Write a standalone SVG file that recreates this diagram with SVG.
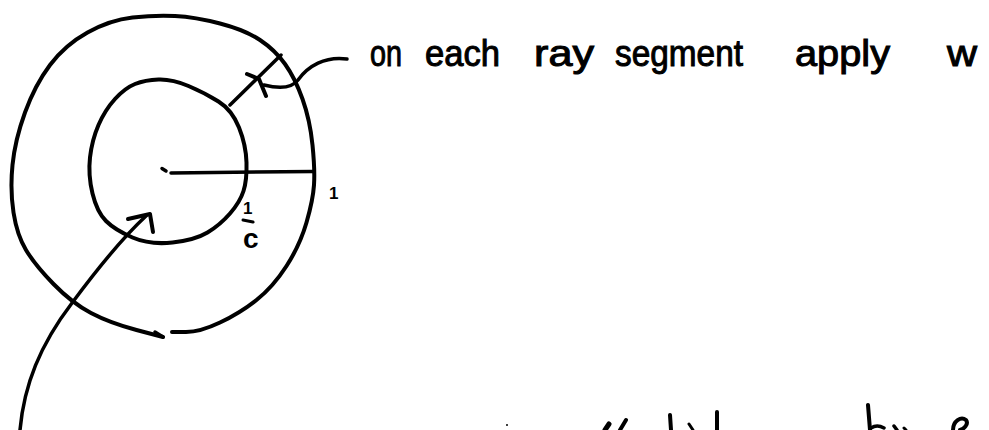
<svg xmlns="http://www.w3.org/2000/svg" width="989" height="430" viewBox="0 0 989 430">
<style>
.ink{fill:none;stroke:#000;stroke-linecap:round;stroke-linejoin:round}
.thick{stroke-width:4}
.mid{stroke-width:3.5}
.hand{font-family:"Liberation Sans","DejaVu Sans",sans-serif;fill:#000}
.cap{stroke:#000;stroke-width:1}
</style>
<rect width="989" height="430" fill="#fff"/>
<g id="outer-circle">
<path class="ink thick" d="M172,332 L186,332 Q200,332 220,322.5 Q240,313 256.5,300 Q273,287 286.5,266 Q300,245 306.5,222.5 Q313,200 314,185 Q315,170 312.5,145 Q310,120 302.5,99 Q295,78 285,64 Q275,50 260,40 Q245,30 220,23.5 Q195,17 175,16 Q155,15 132.5,17.5 Q110,20 87.5,32.5 Q65,45 50,65 Q35,85 25,112.5 Q15,140 12.5,165 Q10,190 13.5,212.5 Q17,235 26,250 Q35,265 53.5,284 Q72,303 91,313 Q110,323 136.5,330 L163,337"/>
<path class="ink mid" d="M155,332 L163,337"/>
</g>
<g id="inner-circle">
<path class="ink thick" d="M135,84 Q145,80 158.5,79.5 Q172,79 188.5,86 Q205,93 218.5,101.5 Q232,110 239,127.5 Q246,145 246.5,162.5 Q247,180 243.5,191 Q240,202 230,213.5 Q220,225 207.5,232.5 Q195,240 172.5,242.5 Q150,245 132.5,237.5 Q115,230 106,221 Q97,212 92.5,193.5 Q88,175 90,157.5 Q92,140 98.5,125 Q105,110 115,99 Q125,88 135,84 Z"/>
</g>
<g id="radius">
<path class="ink mid" d="M162,168.5 L166,171"/>
<path class="ink mid" d="M171,173 L313,171.5"/>
<text class="hand" x="329" y="199" font-size="17" font-weight="bold">1</text>
</g>
<g id="inner-radius-label">
<text class="hand" x="243" y="214" font-size="17" font-weight="bold">1</text>
<path class="ink" stroke-width="3" d="M243,220 L253,222"/>
<text class="hand" x="243" y="248" font-size="28" font-weight="bold">c</text>
</g>
<g id="caption">
<text class="hand cap" font-size="36" y="66" x="370" textLength="32" lengthAdjust="spacingAndGlyphs">on</text>
<text class="hand cap" font-size="36" y="66" x="425" textLength="75" lengthAdjust="spacingAndGlyphs">each</text>
<text class="hand cap" font-size="36" y="66" x="534" textLength="60" lengthAdjust="spacingAndGlyphs">ray</text>
<text class="hand cap" font-size="36" y="66" x="615" textLength="128" lengthAdjust="spacingAndGlyphs">segment</text>
<text class="hand cap" font-size="36" y="66" x="795" textLength="95" lengthAdjust="spacingAndGlyphs">apply</text>
<text class="hand cap" font-size="36" y="66" x="947" textLength="30" lengthAdjust="spacingAndGlyphs">w</text>
</g>
<g id="connectors">
<path id="ray-segment" class="ink mid" d="M230,105 L281,55"/>
<path class="ink thick" d="M247,74 L259,79 L266,96"/>
<path id="callout" class="ink mid" d="M347,59 C325,56 308,66 298,80 C292,88 280,89 264,85"/>
<path id="incoming-arrow" class="ink mid" d="M20,430 C24,385 40,345 72,303 C95,272 120,240 146,216"/>
<path class="ink thick" d="M128,219 L150,214 L153,232"/>
</g>
<g id="cut-off-text">
<path class="ink" stroke-width="5" d="M605,430 L609,424"/>
<path class="ink thick" d="M620,430 L626,420"/>
<path class="ink thick" d="M670,415 L671,430"/>
<path class="ink" stroke-width="3" d="M689,424 L693,430"/>
<path class="ink thick" d="M717,412 L717,430"/>
<path class="ink thick" d="M868,405 L870,430"/>
<path class="ink mid" d="M871,428 Q877,424 884,428"/>
<path class="ink mid" d="M894,426 L897,430"/>
<path class="ink" stroke-width="3" d="M904,428 L906,430"/>
<path class="ink thick" d="M953,430 C953,421 961,416 966,420 C969,424 964,429 960,430"/>
<circle cx="507" cy="425" r="1" fill="#000"/>
</g>
</svg>
